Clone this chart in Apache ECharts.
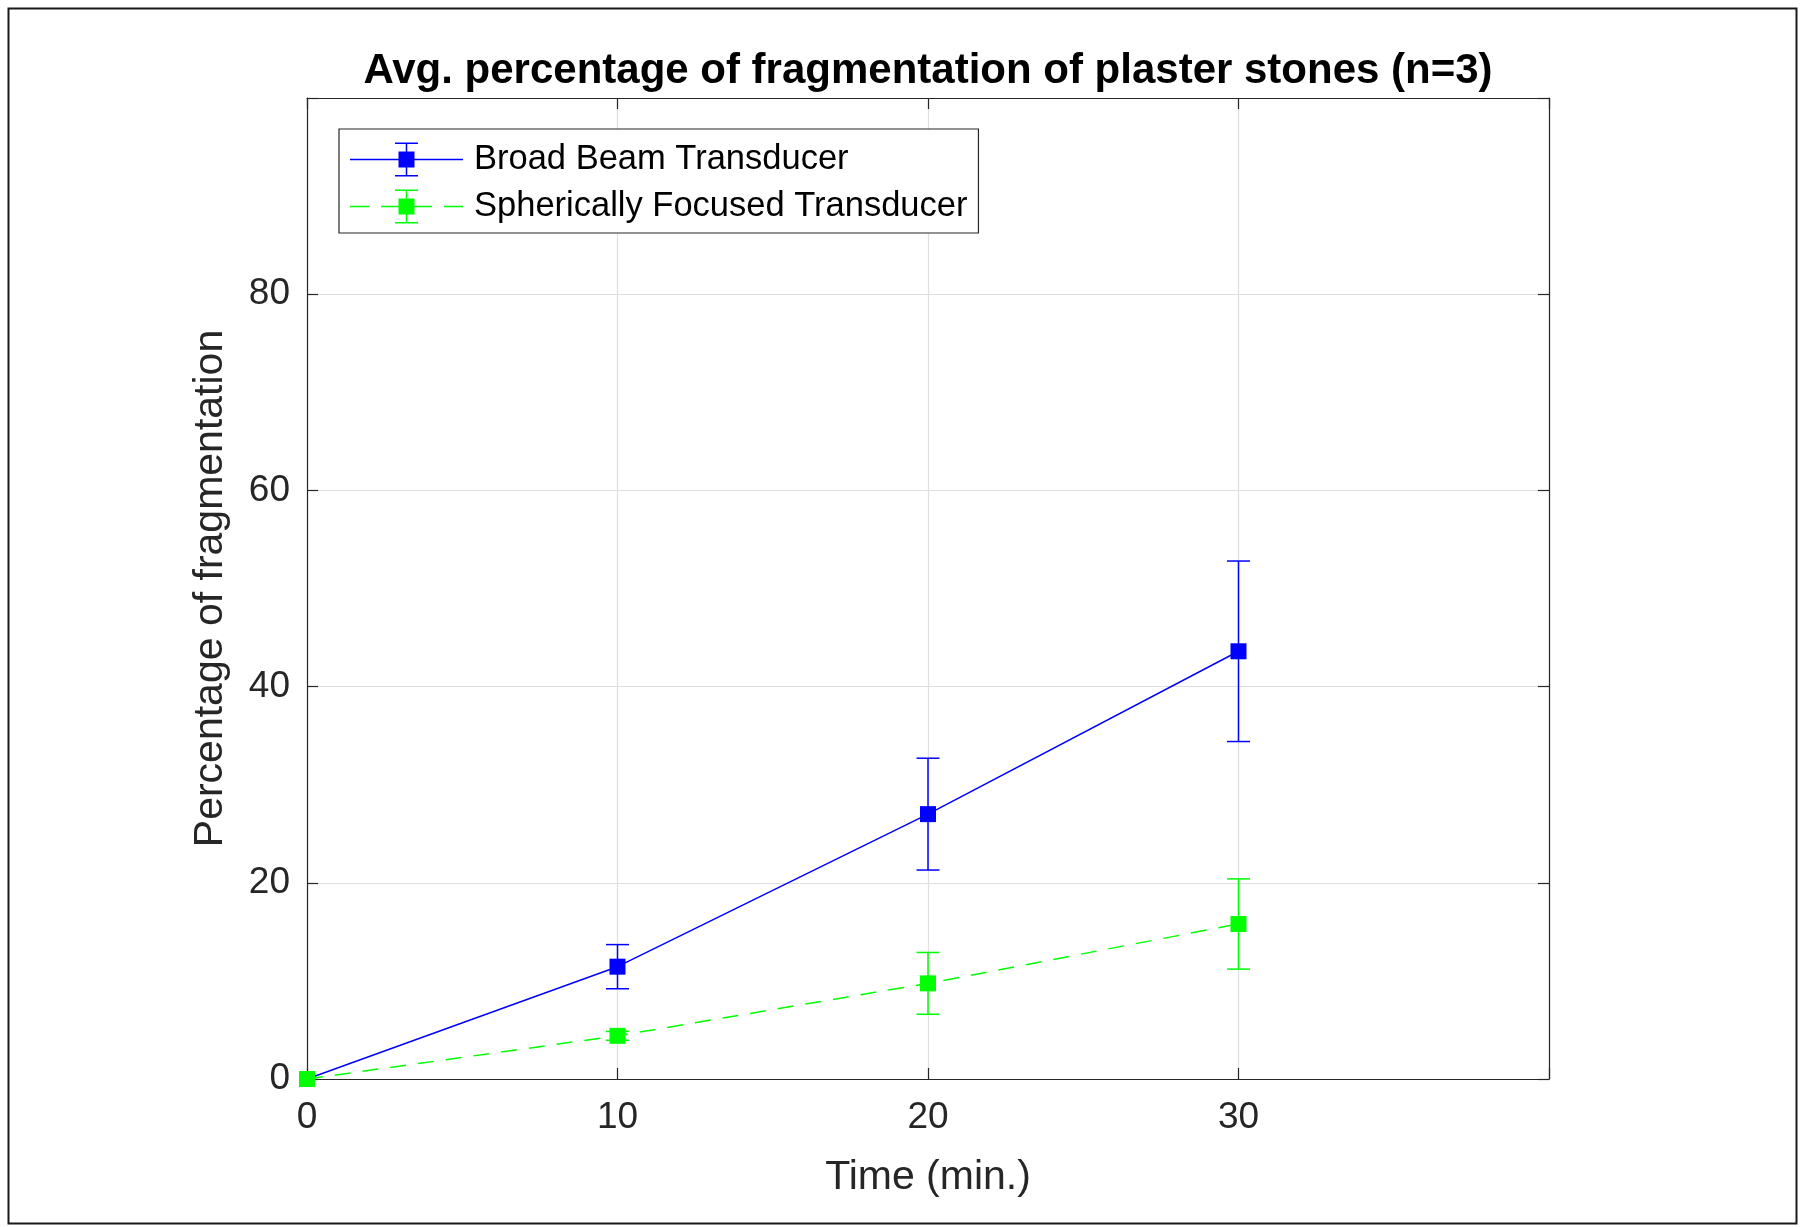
<!DOCTYPE html>
<html>
<head>
<meta charset="utf-8">
<script src="https://cdn.jsdelivr.net/npm/echarts@6/dist/echarts.min.js"></script>
<style>
html,body{margin:0;padding:0;background:#fff;}
#chart{width:1800px;height:1227px;}
</style>
</head>
<body>
<div id="chart"></div>
<script>
// ---- data ----
const timeMin = [0, 10, 20, 30];
const broadBeamMean = [0, 11.45, 27.0, 43.6];
const broadBeamErr = [0, 2.25, 5.7, 9.2];
const sphericalMean = [0, 4.4, 9.75, 15.8];
const sphericalErr = [0, 0.45, 3.15, 4.6];
const xTicks = [0, 10, 20, 30];
const yTicks = [0, 20, 40, 60, 80];
const seriesNames = ['Broad Beam Transducer', 'Spherically Focused Transducer'];
const titleText = 'Avg. percentage of fragmentation of plaster stones (n=3)';

const FONT = 'Liberation Sans, Arial, Helvetica, sans-serif';
const AX = '#262626';
const BLUE = '#0000ff';
const GREEN = '#00ff00';

function pts(xs, ys) { return xs.map((x, i) => [x, ys[i]]); }
function errData(xs, ys, es) { return xs.map((x, i) => [x, ys[i] - es[i], ys[i] + es[i], es[i]]); }

function errRender(color) {
  return function (params, api) {
    const x = api.value(0), lo = api.value(1), hi = api.value(2), e = api.value(3);
    if (!(e > 0)) return null;
    const a = api.coord([x, lo]), b = api.coord([x, hi]);
    const hw = 11.5;
    const st = { stroke: color, lineWidth: 1.5, fill: null };
    return {
      type: 'group',
      children: [
        { type: 'line', shape: { x1: a[0], y1: a[1], x2: b[0], y2: b[1] }, style: st },
        { type: 'line', shape: { x1: a[0] - hw, y1: a[1], x2: a[0] + hw, y2: a[1] }, style: st },
        { type: 'line', shape: { x1: b[0] - hw, y1: b[1], x2: b[0] + hw, y2: b[1] }, style: st }
      ]
    };
  };
}

// legend icons (113 x 34 box), built of filled rectangles
function rect(x, y, w, h) { return 'M' + x + ' ' + y + 'L' + (x + w) + ' ' + y + 'L' + (x + w) + ' ' + (y + h) + 'L' + x + ' ' + (y + h) + 'Z'; }
const errGlyph = rect(55.75, 0, 1.5, 34) + rect(45, 0, 23, 1.5) + rect(45, 32.5, 23, 1.5) + rect(48.5, 9, 16, 16);
const blueIcon = 'path://' + rect(0, 16.25, 113, 1.5) + errGlyph;
const greenIcon = 'path://' + rect(0, 16.25, 19, 1.5) + rect(31, 16.25, 19, 1.5) + rect(63, 16.25, 19, 1.5) + rect(94, 16.25, 19, 1.5) + errGlyph;

const chart = echarts.init(document.getElementById('chart'), null, { renderer: 'canvas' });

const axisCommon = {
  type: 'value',
  axisLine: { show: true, onZero: false, lineStyle: { color: AX, width: 1.2 } },
  axisTick: { show: true, inside: true, length: 11, lineStyle: { color: AX, width: 1.2 } },
};

chart.setOption({
  backgroundColor: '#ffffff',
  animation: false,
  title: {
    text: titleText,
    left: 928,
    top: 50,
    padding: 0,
    textAlign: 'center',
    textStyle: { fontFamily: FONT, fontSize: 42, fontWeight: 'bold', color: '#000' }
  },
  grid: { left: 307, top: 98, right: 251, bottom: 148, containLabel: false },
  legend: {
    orient: 'vertical',
    left: 339,
    top: 129,
    padding: [13, 11, 9, 11],
    itemGap: 12,
    itemWidth: 113,
    itemHeight: 34,
    backgroundColor: '#fff',
    borderColor: AX,
    borderWidth: 1.2,
    borderRadius: 0,
    itemStyle: { borderWidth: 0 },
    textStyle: { fontFamily: FONT, fontSize: 34.5, color: '#000', padding: [0, 0, 0, 6] },
    data: [
      { name: seriesNames[0], icon: blueIcon, itemStyle: { color: BLUE, borderWidth: 0 } },
      { name: seriesNames[1], icon: greenIcon, itemStyle: { color: GREEN, borderWidth: 0 } }
    ]
  },
  xAxis: [
    Object.assign({}, axisCommon, {
      position: 'bottom', min: 0, max: 40, interval: 10,
      name: 'Time (min.)', nameLocation: 'middle', nameGap: 78,
      nameTextStyle: { fontFamily: FONT, fontSize: 41, color: AX },
      axisLabel: {
        fontFamily: FONT, fontSize: 37, color: AX, margin: 20,
        formatter: v => (xTicks.indexOf(v) >= 0 ? String(v) : '')
      },
      splitLine: { show: true, lineStyle: { color: '#dfdfdf', width: 1.2 } }
    }),
    Object.assign({}, axisCommon, {
      position: 'top', min: 0, max: 40, interval: 10,
      axisLabel: { show: false }, splitLine: { show: false }
    })
  ],
  yAxis: [
    Object.assign({}, axisCommon, {
      position: 'left', min: 0, max: 100, interval: 20,
      name: 'Percentage of fragmentation', nameLocation: 'middle', nameGap: 76,
      nameTextStyle: { fontFamily: FONT, fontSize: 41, color: AX },
      axisLabel: {
        fontFamily: FONT, fontSize: 37, color: AX, margin: 17,
        formatter: v => (yTicks.indexOf(v) >= 0 ? String(v) : '')
      },
      splitLine: { show: true, lineStyle: { color: '#dfdfdf', width: 1.2 } }
    }),
    Object.assign({}, axisCommon, {
      position: 'right', min: 0, max: 100, interval: 20,
      axisLabel: { show: false }, splitLine: { show: false }
    })
  ],
  series: [
    {
      name: seriesNames[0], type: 'line', data: pts(timeMin, broadBeamMean),
      symbol: 'rect', symbolSize: 16, showAllSymbol: true,
      itemStyle: { color: BLUE, borderWidth: 0 },
      lineStyle: { color: BLUE, width: 1.5 }, z: 3
    },
    {
      name: 'err0', type: 'custom', data: errData(timeMin, broadBeamMean, broadBeamErr),
      renderItem: errRender(BLUE), z: 3
    },
    {
      name: seriesNames[1], type: 'line', data: pts(timeMin, sphericalMean),
      symbol: 'rect', symbolSize: 16, showAllSymbol: true,
      itemStyle: { color: GREEN, borderWidth: 0 },
      lineStyle: { color: GREEN, width: 1.5, type: [16, 12] }, z: 4
    },
    {
      name: 'err1', type: 'custom', data: errData(timeMin, sphericalMean, sphericalErr),
      renderItem: errRender(GREEN), z: 4
    }
  ],
  graphic: [
    {
      type: 'rect', left: 6, top: 6, z: 100, silent: true,
      shape: { x: 0, y: 0, width: 1788, height: 1215 },
      style: { fill: null, stroke: '#1a1a1a', lineWidth: 2 }
    }
  ]
});
</script>
</body>
</html>
